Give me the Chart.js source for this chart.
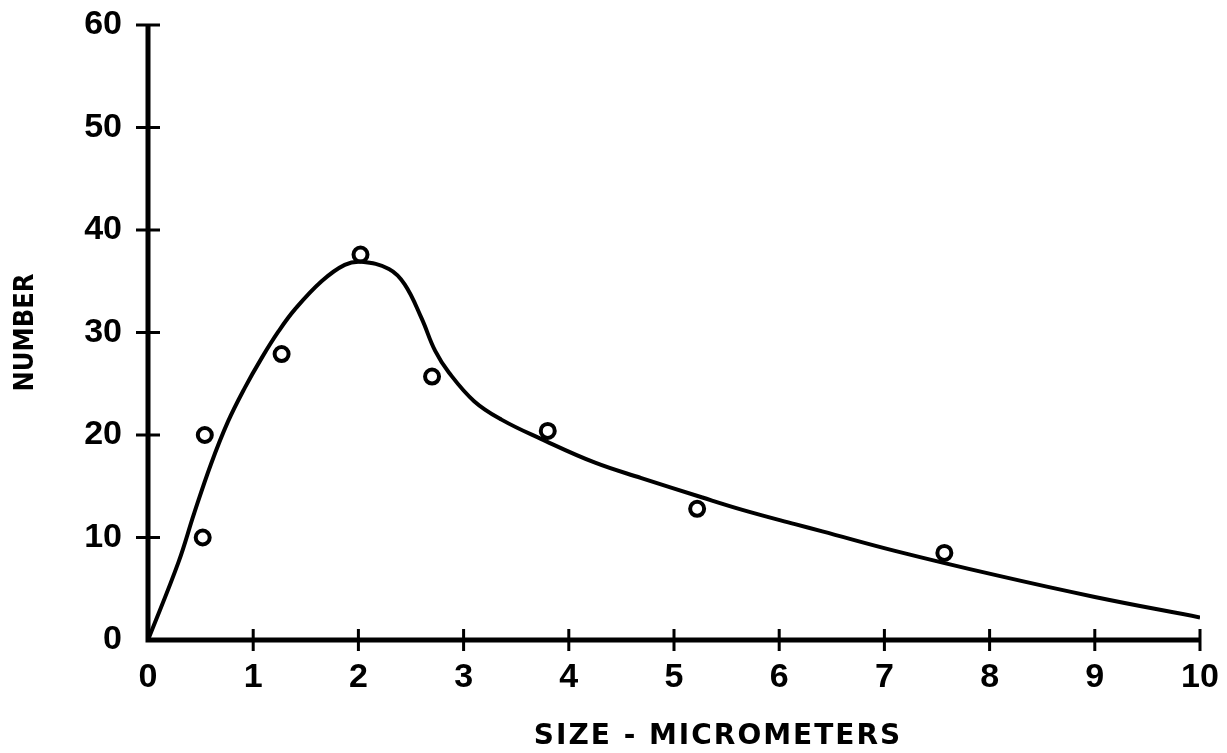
<!DOCTYPE html>
<html>
<head>
<meta charset="utf-8">
<script src="https://cdn.jsdelivr.net/npm/chart.js@4/dist/chart.umd.min.js"></script>
<style>
  html, body { margin: 0; padding: 0; background: #fff; }
  #wrap { width: 1227px; height: 753px; }
</style>
</head>
<body>
<div id="wrap"><canvas id="sizeChart"></canvas></div>
<script>
// measured points
const sizeX = [0.52, 0.54, 1.27, 2.02, 2.70, 3.80, 5.22, 7.57];
const countY = [10, 20, 27.9, 37.6, 25.7, 20.4, 12.8, 8.5];

// hand-drawn fitted curve
const curveX = [0, 0.29, 0.44, 0.6, 0.76, 0.92, 1.08, 1.24, 1.40, 1.65, 1.87, 2.03, 2.29, 2.44, 2.6, 2.73, 2.86, 3.1, 3.36, 3.74, 4.25, 4.69, 5.27, 5.65, 6.15, 6.41, 7.1, 8.07, 9.0, 10];
const curveY = [0, 7.6, 12.4, 17.2, 21.3, 24.6, 27.5, 30.1, 32.3, 35.0, 36.6, 36.9, 36.2, 34.7, 31.4, 28.2, 26.1, 23.3, 21.5, 19.6, 17.3, 15.8, 13.9, 12.7, 11.3, 10.6, 8.7, 6.3, 4.2, 2.2];

const xTicks = [0, 1, 2, 3, 4, 5, 6, 7, 8, 9, 10];
const yTicks = [0, 10, 20, 30, 40, 50, 60];

const toXY = (xs, ys) => xs.map((x, i) => ({ x: x, y: ys[i] }));

// axis lines with tick marks crossing them, like the original drawing
const crossTicks = {
    id: 'crossTicks',
    afterLayout(chart) {
        // spaced-out x title, sitting a bit right of centre as in the original
        const sx = chart.scales.x;
        if (!sx._spaced) {
            const orig = sx.drawTitle;
            sx.drawTitle = function() {
                const c = this.ctx;
                c.save();
                c.letterSpacing = '2px';
                c.translate(44, 1);
                orig.call(this);
                c.restore();
            };
            sx._spaced = true;
        }
    },
    afterDraw(chart) {
        const ctx = chart.ctx;
        const xs = chart.scales.x, ys = chart.scales.y;
        const x0 = xs.getPixelForValue(0), y0 = ys.getPixelForValue(0);
        ctx.save();
        ctx.strokeStyle = '#000';
        ctx.lineCap = 'butt';
        ctx.lineWidth = 5;
        ctx.beginPath();
        ctx.moveTo(x0, ys.getPixelForValue(60));
        ctx.lineTo(x0, y0);
        ctx.lineTo(xs.getPixelForValue(10), y0);
        ctx.stroke();
        ctx.lineWidth = 3;
        ctx.beginPath();
        xTicks.forEach(v => {
            if (v === 0) return;
            const px = xs.getPixelForValue(v);
            ctx.moveTo(px, y0 - 11);
            ctx.lineTo(px, y0 + 11);
        });
        yTicks.forEach(v => {
            if (v === 0) return;
            const py = ys.getPixelForValue(v);
            ctx.moveTo(x0 - 12, py);
            ctx.lineTo(x0 + 12, py);
        });
        ctx.stroke();
        ctx.restore();
    }
};

const ctx = document.getElementById('sizeChart').getContext('2d');
new Chart(ctx, {
    type: 'scatter',
    data: {
        datasets: [
            {
                data: toXY(sizeX, countY),
                showLine: false,
                pointRadius: 7,
                pointBorderWidth: 4,
                pointBorderColor: '#000',
                pointBackgroundColor: 'rgba(255,255,255,0)'
            },
            {
                data: toXY(curveX, curveY),
                showLine: true,
                borderColor: '#000',
                borderWidth: 4,
                pointRadius: 0,
                tension: 0.4,
                fill: false
            }
        ]
    },
    options: {
        responsive: true,
        maintainAspectRatio: false,
        animation: false,
        layout: { padding: { top: 25, right: 27, left: 0, bottom: 0 } },
        plugins: { legend: { display: false }, tooltip: { enabled: false } },
        scales: {
            x: {
                type: 'linear',
                min: 0, max: 10,
                afterBuildTicks: s => { s.ticks = xTicks.map(v => ({ value: v })); },
                afterFit: s => { s.height = 113; s.paddingLeft = 0; s.paddingRight = 0; },
                grid: { display: false },
                border: { display: false },
                ticks: {
                    color: '#000',
                    padding: 9,
                    font: { family: 'Liberation Sans', weight: 'bold', size: 34 }
                },
                title: {
                    display: true,
                    text: 'SIZE - MICROMETERS',
                    color: '#000',
                    padding: { top: 10, bottom: 0 },
                    font: { family: 'DejaVu Sans', weight: 'bold', size: 28 }
                }
            },
            y: {
                min: 0, max: 60,
                afterBuildTicks: s => { s.ticks = yTicks.map(v => ({ value: v })); },
                afterFit: s => { s.width = 148; s.paddingTop = 0; s.paddingBottom = 0; },
                grid: { display: false },
                border: { display: false },
                ticks: {
                    color: '#000',
                    padding: 18,
                    font: { family: 'Liberation Sans', weight: 'bold', size: 34 }
                },
                title: {
                    display: true,
                    text: 'NUMBER',
                    color: '#000',
                    padding: { top: 10, bottom: 22 },
                    font: { family: 'DejaVu Sans Condensed, DejaVu Sans', weight: 'bold', size: 27 }
                }
            }
        }
    },
    plugins: [crossTicks]
});
</script>
</body>
</html>
